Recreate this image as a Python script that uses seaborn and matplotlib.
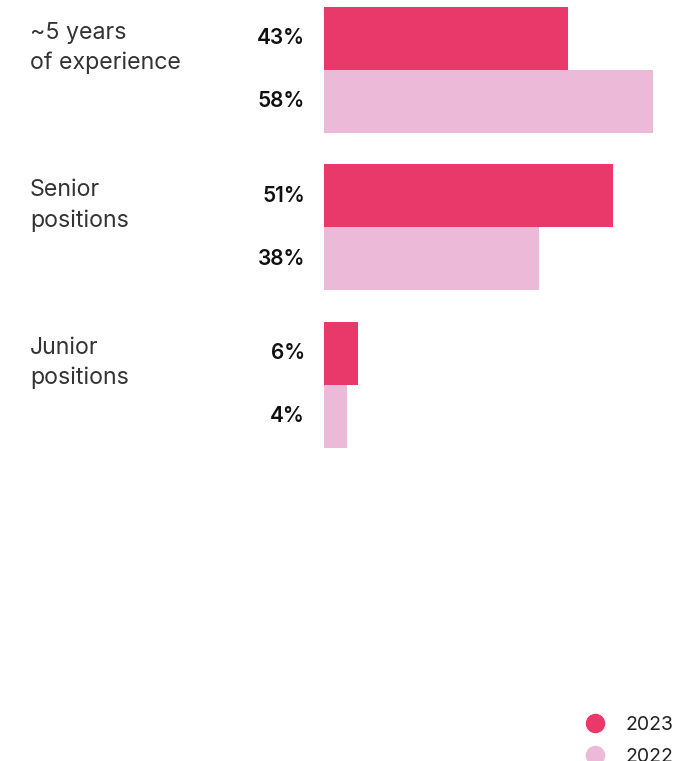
import matplotlib
matplotlib.use("Agg")
import matplotlib.pyplot as plt
import matplotlib.transforms as mtransforms
from matplotlib.lines import Line2D
import seaborn as sns
import pandas as pd

# Share of roles by seniority, 2023 vs 2022
categories = ["~5 years\nof experience", "Senior\npositions", "Junior\npositions"]
years = ["2023", "2022"]
values_2023 = [43, 51, 6]
values_2022 = [58, 38, 4]
colors = {"2023": "#E8396A", "2022": "#ECBAD8"}

rows = []
for cat, v23, v22 in zip(categories, values_2023, values_2022):
    rows.append({"category": cat, "year": "2023", "value": v23})
    rows.append({"category": cat, "year": "2022", "value": v22})
df = pd.DataFrame(rows)

sns.set_theme(style="white")
plt.rcParams["font.family"] = ["Inter", "DejaVu Sans"]

W, H = 682, 761
fig = plt.figure(figsize=(W / 100, H / 100), dpi=100)
ax = fig.add_axes([324 / W, 0, 1 - 324 / W, 1])

sns.barplot(data=df, y="category", x="value", hue="year", hue_order=years,
            order=categories, palette=colors, orient="h", width=0.8,
            saturation=1, legend=False, linewidth=0, ax=ax)

ax.set_xlim(0, (W - 324) / 5.67)
ax.set_ylim(4.387, -0.444)
ax.set_axis_off()

# value labels to the left of each bar
for container, year in zip(ax.containers, years):
    for bar, cat in zip(container, categories):
        yc = bar.get_y() + bar.get_height() / 2
        val = bar.get_width()
        ax.annotate(f"{val:.0f}%", xy=(0, yc), xytext=(-19, 0),
                    textcoords="offset pixels", ha="right", va="center",
                    fontsize=15, fontweight="semibold", color="#111111")

# category labels on the far left
trans = mtransforms.blended_transform_factory(fig.transFigure, ax.transData)
for i, cat in enumerate(categories):
    ax.text(30 / W, i - 0.14, cat, transform=trans, ha="left", va="center",
            fontsize=16.7, color="#333333", linespacing=1.47)

handles = [Line2D([], [], marker="o", linestyle="none", markersize=13,
                  markerfacecolor=colors[y], markeredgecolor=colors[y])
           for y in years]
fig.legend(handles, years, loc="upper left",
           bbox_to_anchor=(576 / W, 1 - 716 / H), frameon=False,
           fontsize=14, handletextpad=0.55, labelspacing=0.7,
           borderaxespad=0, borderpad=0, labelcolor="#222222")

fig.savefig("out.png", dpi=100)
